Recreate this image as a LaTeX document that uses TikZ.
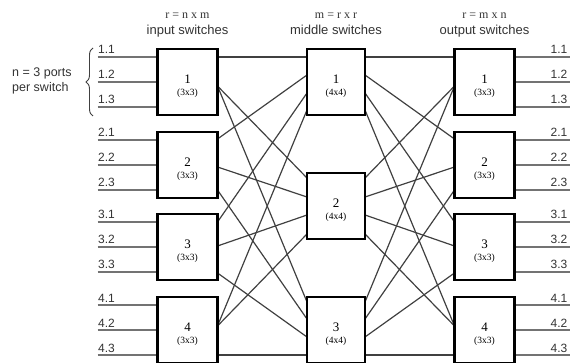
\documentclass[tikz,border=0pt]{standalone}
\usepackage{fontspec}
\usetikzlibrary{calc,decorations.pathreplacing}
\newfontfamily\lsans{Liberation Sans}
\newfontfamily\lserif{Liberation Serif}
\tikzset{
  swbox/.style={draw=black, line width=2.8pt, fill=white, inner sep=0pt, outer sep=0pt,
    minimum width=60pt, minimum height=66pt, align=center, font=\lserif\fontsize{13}{13}\selectfont},
  midbox/.style={swbox, minimum width=58pt},
  conn/.style={draw=black!75, line width=1.2pt},
  portline/.style={draw=black!55, line width=1.6pt},
  portlabel/.style={font=\lsans\fontsize{12}{12}\selectfont, text=black!80, inner sep=0pt},
  headmath/.style={font=\lserif\fontsize{12}{12}\selectfont, text=black!80, inner sep=0pt, anchor=base},
  headtext/.style={font=\lsans\fontsize{13}{13}\selectfont, text=black!80, inner sep=0pt, anchor=base},
  bracestyle/.style={draw=black!75, line width=0.9pt, decorate, decoration={brace, amplitude=7pt}}
}
\newcommand{\swtext}[2]{\raisebox{-4.5pt}[\height][\depth]{\begin{tabular}{@{}c@{}}#1\\[-1pt]{\fontsize{9.5}{10}\selectfont(#2)}\end{tabular}}}
\begin{document}
\begin{tikzpicture}[x=1pt,y=-1pt]
\useasboundingbox (0,0) rectangle (570,363);

% switch boxes (positions only; content added later on top of connectors)
\path
  (187.5,82)  node[swbox] (in1) {}
  (187.5,165) node[swbox] (in2) {}
  (187.5,247) node[swbox] (in3) {}
  (187.5,330) node[swbox] (in4) {}
  (336,82)    node[midbox] (mid1) {}
  (336,206)   node[midbox] (mid2) {}
  (336,330)   node[midbox] (mid3) {}
  (484.5,82)  node[swbox] (out1) {}
  (484.5,165) node[swbox] (out2) {}
  (484.5,247) node[swbox] (out3) {}
  (484.5,330) node[swbox] (out4) {};

% attachment points on the outer switches (offsets from the box top)
\foreach \i/\a/\b/\c in {1/8/37/37, 2/7/35/58, 3/8/32/59, 4/29/29/58}{
  \coordinate (ix\i-1) at ($(in\i.north east)+(0,\a)$);
  \coordinate (ix\i-2) at ($(in\i.north east)+(0,\b)$);
  \coordinate (ix\i-3) at ($(in\i.north east)+(0,\c)$);
  \coordinate (ox\i-1) at ($(out\i.north west)+(0,\a)$);
  \coordinate (ox\i-2) at ($(out\i.north west)+(0,\b)$);
  \coordinate (ox\i-3) at ($(out\i.north west)+(0,\c)$);
}
% attachment points on the middle switches
\foreach \j/\a/\b/\c/\d in {1/8/26/44/61, 2/5/24/42/61, 3/5/22/40/58}{
  \coordinate (mx\j-1) at ($(mid\j.north west)+(0,\a)$);
  \coordinate (mx\j-2) at ($(mid\j.north west)+(0,\b)$);
  \coordinate (mx\j-3) at ($(mid\j.north west)+(0,\c)$);
  \coordinate (mx\j-4) at ($(mid\j.north west)+(0,\d)$);
  \coordinate (my\j-1) at ($(mid\j.north east)+(0,\a)$);
  \coordinate (my\j-2) at ($(mid\j.north east)+(0,\b)$);
  \coordinate (my\j-3) at ($(mid\j.north east)+(0,\c)$);
  \coordinate (my\j-4) at ($(mid\j.north east)+(0,\d)$);
}

% interstage links: input i <-> middle j <-> output i
\foreach \i in {1,...,4}{
  \foreach \j in {1,2,3}{
    \draw[conn] (ix\i-\j) -- (mx\j-\i);
    \draw[conn] (my\j-\i) -- (ox\i-\j);
  }
}

% external ports with their labels
\foreach \i in {1,...,4}{
  \foreach \p/\d in {1/8, 2/33, 3/58}{
    \coordinate (pl\i-\p) at ($(in\i.north west)+(-60,\d)$);
    \coordinate (pr\i-\p) at ($(out\i.north east)+(58,\d)$);
    \draw[portline] (pl\i-\p) -- (in\i.north west |- pl\i-\p);
    \draw[portline] (out\i.north east |- pr\i-\p) -- (pr\i-\p);
    \node[portlabel, anchor=base west] (ll\i-\p) at ($(pl\i-\p)+(0.5,-3)$) {\i.\p};
    \node[portlabel, anchor=base east] (rl\i-\p) at ($(pr\i-\p)+(-5,-3)$) {\i.\p};
  }
}

% switch labels drawn over the links
\foreach \n in {1,...,4}{
  \node[swbox] at (in\n) {\swtext{\n}{3x3}};
  \node[swbox] at (out\n) {\swtext{\n}{3x3}};
}
\foreach \n in {1,2,3}{
  \node[midbox] at (mid\n) {\swtext{\n}{4x4}};
}

% stage headings
\node[headmath] (h1) at (187.5,19) {r = n x m};
\node[headtext] (t1) at (187.5,35) {input switches};
\node[headmath] (h2) at (336,19) {m = r x r};
\node[headtext] (t2) at (336,35) {middle switches};
\node[headmath] (h3) at (484.5,19) {r = m x n};
\node[headtext] (t3) at (484.5,35) {output switches};

% port group annotation
\coordinate (bb) at (93,116);
\coordinate (bt) at (93,48);
\draw[bracestyle] (bb) -- (bt);
\node[font=\lsans\fontsize{12.5}{14.5}\selectfont, text=black!80, align=left, inner sep=0pt, anchor=west] (ann) at (12,81) {n = 3 ports\\per switch};
\end{tikzpicture}
\end{document}
